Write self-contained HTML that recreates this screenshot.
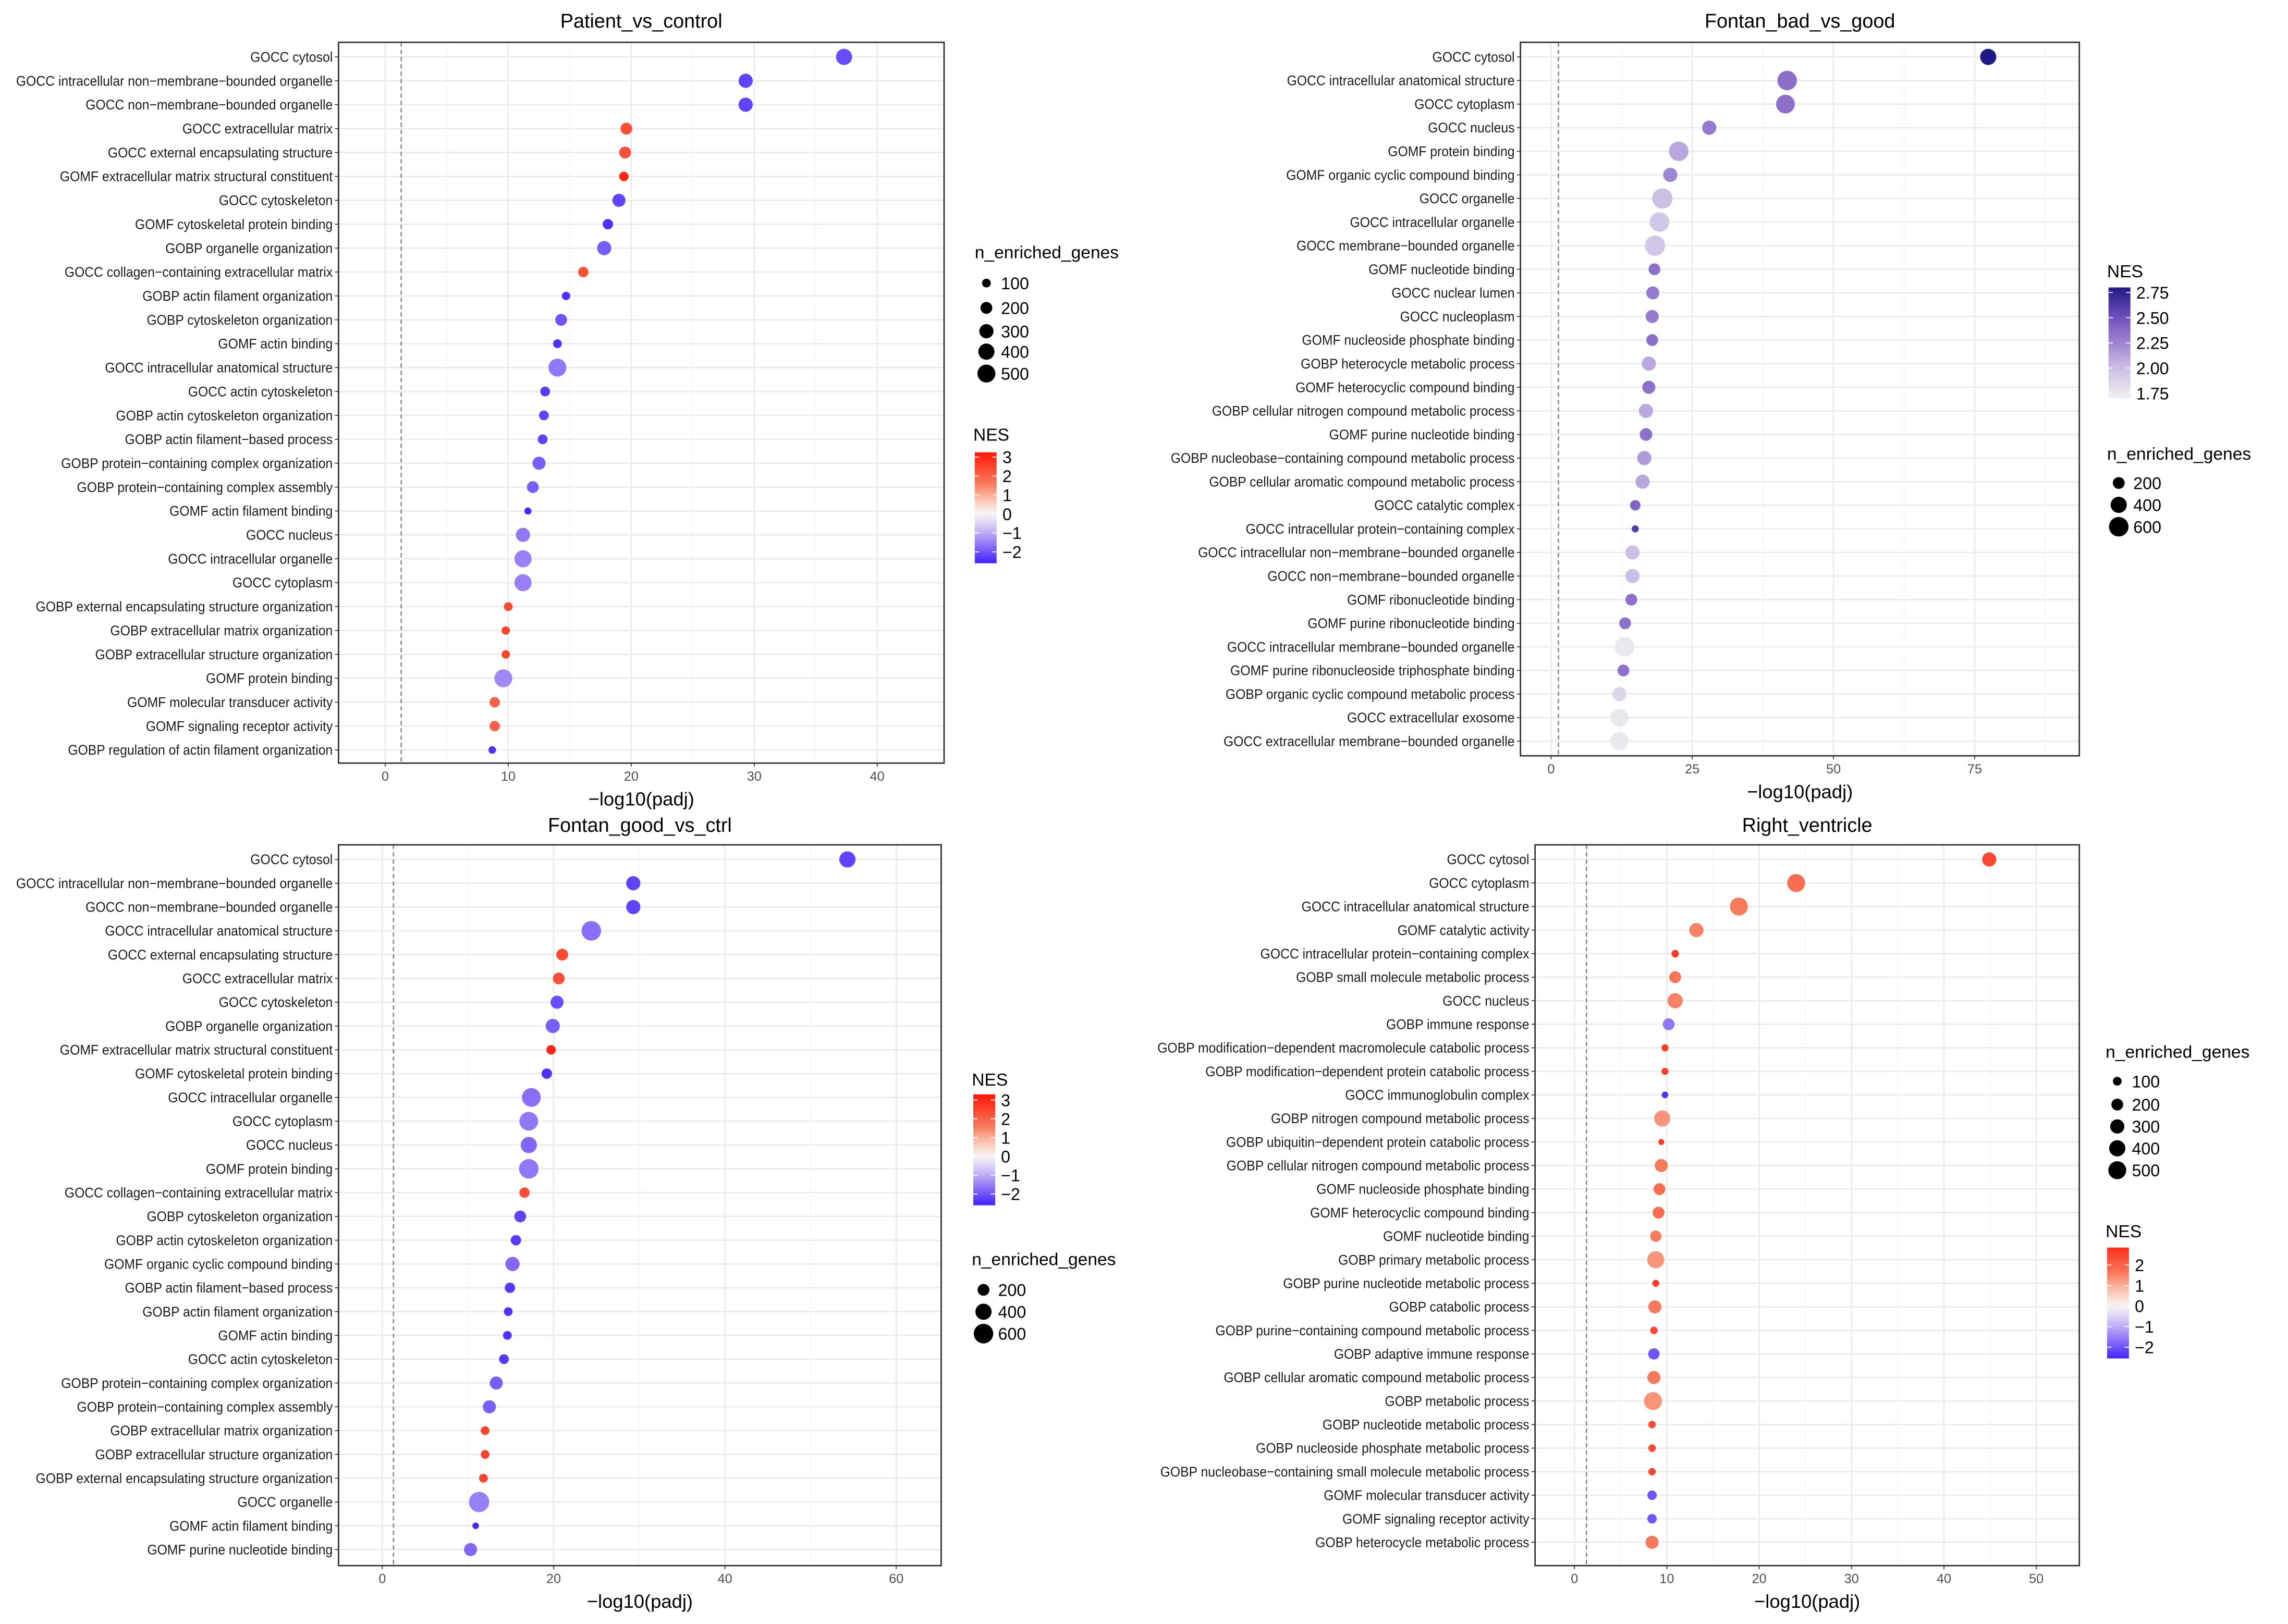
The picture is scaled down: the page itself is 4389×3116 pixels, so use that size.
<!DOCTYPE html>
<html><head><meta charset="utf-8">
<style>
html,body{margin:0;padding:0;background:#fff;}
svg{display:block;font-family:"Liberation Sans",sans-serif;}
</style></head>
<body>
<svg id="fig" xmlns="http://www.w3.org/2000/svg" width="4389" height="3116" viewBox="0 0 1568 1113" preserveAspectRatio="none"></svg>
<script>
// ---------- Panel A: Patient_vs_control ----------
const termsA = ["GOCC cytosol","GOCC intracellular non−membrane−bounded organelle","GOCC non−membrane−bounded organelle","GOCC extracellular matrix","GOCC external encapsulating structure","GOMF extracellular matrix structural constituent","GOCC cytoskeleton","GOMF cytoskeletal protein binding","GOBP organelle organization","GOCC collagen−containing extracellular matrix","GOBP actin filament organization","GOBP cytoskeleton organization","GOMF actin binding","GOCC intracellular anatomical structure","GOCC actin cytoskeleton","GOBP actin cytoskeleton organization","GOBP actin filament−based process","GOBP protein−containing complex organization","GOBP protein−containing complex assembly","GOMF actin filament binding","GOCC nucleus","GOCC intracellular organelle","GOCC cytoplasm","GOBP external encapsulating structure organization","GOBP extracellular matrix organization","GOBP extracellular structure organization","GOMF protein binding","GOMF molecular transducer activity","GOMF signaling receptor activity","GOBP regulation of actin filament organization"];
const padjA = [37.3,29.3,29.3,19.6,19.5,19.4,19.0,18.1,17.8,16.1,14.7,14.3,14.0,14.0,13.0,12.9,12.8,12.5,12.0,11.6,11.2,11.2,11.2,10.0,9.8,9.8,9.6,8.9,8.9,8.7];
const genesA = [400,300,300,200,200,120,250,150,300,150,90,200,100,500,130,130,130,250,200,60,300,450,450,100,90,90,500,150,150,70];
const nesA = [-2.1,-2.2,-2.2,2.3,2.3,3.0,-2.2,-2.4,-1.9,2.3,-2.4,-2.0,-2.4,-1.6,-2.3,-2.2,-2.2,-1.9,-1.9,-2.5,-1.6,-1.5,-1.5,2.4,2.5,2.5,-1.4,2.0,2.0,-2.4];
const xTicksA = [0,10,20,30,40];

// ---------- Panel B: Fontan_bad_vs_good ----------
const termsB = ["GOCC cytosol","GOCC intracellular anatomical structure","GOCC cytoplasm","GOCC nucleus","GOMF protein binding","GOMF organic cyclic compound binding","GOCC organelle","GOCC intracellular organelle","GOCC membrane−bounded organelle","GOMF nucleotide binding","GOCC nuclear lumen","GOCC nucleoplasm","GOMF nucleoside phosphate binding","GOBP heterocycle metabolic process","GOMF heterocyclic compound binding","GOBP cellular nitrogen compound metabolic process","GOMF purine nucleotide binding","GOBP nucleobase−containing compound metabolic process","GOBP cellular aromatic compound metabolic process","GOCC catalytic complex","GOCC intracellular protein−containing complex","GOCC intracellular non−membrane−bounded organelle","GOCC non−membrane−bounded organelle","GOMF ribonucleotide binding","GOMF purine ribonucleotide binding","GOCC intracellular membrane−bounded organelle","GOMF purine ribonucleoside triphosphate binding","GOBP organic cyclic compound metabolic process","GOCC extracellular exosome","GOCC extracellular membrane−bounded organelle"];
const padjB = [77.4,41.8,41.5,28.0,22.6,21.1,19.7,19.2,18.4,18.3,18.0,17.9,17.9,17.3,17.3,16.8,16.8,16.5,16.2,14.9,14.9,14.4,14.4,14.2,13.1,13.0,12.8,12.1,12.1,12.1];
const genesB = [400,600,550,300,600,300,650,600,650,200,250,250,200,300,250,300,230,300,300,150,60,300,300,200,200,600,200,300,500,500];
const nesB = [2.8,2.35,2.35,2.3,2.1,2.25,2.0,1.95,1.95,2.35,2.3,2.3,2.35,2.1,2.35,2.1,2.35,2.15,2.1,2.4,2.6,2.0,2.0,2.35,2.35,1.75,2.35,1.85,1.75,1.75];
const xTicksB = [0,25,50,75];

// ---------- Panel C: Fontan_good_vs_ctrl ----------
const termsC = ["GOCC cytosol","GOCC intracellular non−membrane−bounded organelle","GOCC non−membrane−bounded organelle","GOCC intracellular anatomical structure","GOCC external encapsulating structure","GOCC extracellular matrix","GOCC cytoskeleton","GOBP organelle organization","GOMF extracellular matrix structural constituent","GOMF cytoskeletal protein binding","GOCC intracellular organelle","GOCC cytoplasm","GOCC nucleus","GOMF protein binding","GOCC collagen−containing extracellular matrix","GOBP cytoskeleton organization","GOBP actin cytoskeleton organization","GOMF organic cyclic compound binding","GOBP actin filament−based process","GOBP actin filament organization","GOMF actin binding","GOCC actin cytoskeleton","GOBP protein−containing complex organization","GOBP protein−containing complex assembly","GOBP extracellular matrix organization","GOBP extracellular structure organization","GOBP external encapsulating structure organization","GOCC organelle","GOMF actin filament binding","GOMF purine nucleotide binding"];
const padjC = [54.3,29.3,29.3,24.4,21.0,20.6,20.4,19.9,19.7,19.2,17.4,17.1,17.1,17.1,16.6,16.1,15.6,15.2,14.9,14.7,14.6,14.2,13.3,12.5,12.0,12.0,11.8,11.3,10.9,10.3];
const genesC = [400,300,300,600,200,200,250,300,120,150,550,550,400,600,150,200,150,300,150,100,100,130,250,250,100,100,100,650,50,250];
const nesC = [-2.2,-2.2,-2.2,-1.7,2.4,2.3,-2.1,-1.9,3.0,-2.4,-1.7,-1.6,-1.8,-1.6,2.3,-2.2,-2.3,-1.8,-2.3,-2.4,-2.4,-2.3,-1.9,-1.9,2.5,2.5,2.5,-1.5,-2.5,-1.8];
const xTicksC = [0,20,40,60];

// ---------- Panel D: Right_ventricle ----------
const termsD = ["GOCC cytosol","GOCC cytoplasm","GOCC intracellular anatomical structure","GOMF catalytic activity","GOCC intracellular protein−containing complex","GOBP small molecule metabolic process","GOCC nucleus","GOBP immune response","GOBP modification−dependent macromolecule catabolic process","GOBP modification−dependent protein catabolic process","GOCC immunoglobulin complex","GOBP nitrogen compound metabolic process","GOBP ubiquitin−dependent protein catabolic process","GOBP cellular nitrogen compound metabolic process","GOMF nucleoside phosphate binding","GOMF heterocyclic compound binding","GOMF nucleotide binding","GOBP primary metabolic process","GOBP purine nucleotide metabolic process","GOBP catabolic process","GOBP purine−containing compound metabolic process","GOBP adaptive immune response","GOBP cellular aromatic compound metabolic process","GOBP metabolic process","GOBP nucleotide metabolic process","GOBP nucleoside phosphate metabolic process","GOBP nucleobase−containing small molecule metabolic process","GOMF molecular transducer activity","GOMF signaling receptor activity","GOBP heterocycle metabolic process"];
const padjD = [44.9,24.0,17.8,13.2,10.9,10.9,10.9,10.2,9.8,9.8,9.8,9.5,9.4,9.4,9.2,9.1,8.8,8.8,8.8,8.7,8.6,8.6,8.6,8.5,8.4,8.4,8.4,8.4,8.4,8.4];
const genesD = [300,500,500,300,70,200,350,200,60,60,50,400,40,250,200,200,180,450,60,250,70,180,250,500,70,70,70,120,120,250];
const nesD = [2.4,1.8,1.6,1.5,2.6,1.7,1.5,-1.6,2.6,2.6,-2.4,1.3,2.6,1.6,1.8,1.8,1.6,1.3,2.5,1.6,2.4,-2.0,1.6,1.3,2.4,2.4,2.4,-2.0,-2.0,1.6];
const xTicksD = [0,10,20,30,40,50];

// ---------- helpers ----------
const NS = "http://www.w3.org/2000/svg";
const svg = document.getElementById('fig');
function mk(tag, attrs, parent){
  const e = document.createElementNS(NS, tag);
  for (const k in attrs) e.setAttribute(k, attrs[k]);
  (parent||svg).appendChild(e);
  return e;
}
function lerp(a,b,t){return a+(b-a)*t;}
function hex(c){return [parseInt(c.slice(1,3),16),parseInt(c.slice(3,5),16),parseInt(c.slice(5,7),16)];}
function stopColor(stops, v){
  if (v<=stops[0][0]) return stops[0][1];
  if (v>=stops[stops.length-1][0]) return stops[stops.length-1][1];
  for (let i=0;i<stops.length-1;i++){
    const [v0,c0]=stops[i],[v1,c1]=stops[i+1];
    if (v>=v0 && v<=v1){
      const t=(v-v0)/(v1-v0), a=hex(c0), b=hex(c1);
      return 'rgb('+a.map((x,j)=>Math.round(lerp(x,b[j],t))).join(',')+')';
    }
  }
}
const divStops = [[-2.6,'#4020ff'],[-1.6,'#9277f6'],[-0.8,'#cbbdf7'],[0,'#f7f7f7'],[0.8,'#fbc0ac'],[1.6,'#f67a5c'],[3.2,'#ff1a0a']];
const purStops = [[1.7,'#f0f0f0'],[2.0,'#cbbfe4'],[2.25,'#9f85d2'],[2.5,'#7150bd'],[2.85,'#13117a']];
function rad(n){return 0.255*Math.sqrt(n)+0.45;}

function panel(cfg){
  const g = mk('g', {});
  
  
  const [bx0,bx1,by0,by1] = cfg.box;
  const xs = v => cfg.zeroPx + v*cfg.ppu;
  const n = cfg.terms.length;
  const ys = i => cfg.rowTop + i*(cfg.rowBot-cfg.rowTop)/(n-1);
  mk('rect',{x:bx0,y:by0,width:bx1-bx0,height:by1-by0,fill:'#fff'},g);
  const step = cfg.ticks[1]-cfg.ticks[0];
  for (let v=cfg.ticks[0]-step/2; v<=cfg.ticks[cfg.ticks.length-1]+step; v+=step){
    const x=xs(v); if (x>bx0 && x<bx1){
      const l=mk('line',{x1:x,x2:x,y1:by0,y2:by1,stroke:'#f4f4f4','stroke-width':0.5},g);
       
    }
  }
  cfg.ticks.forEach(v=>{
    const x=xs(v);
    const l=mk('line',{x1:x,x2:x,y1:by0,y2:by1,stroke:'#ebebeb','stroke-width':1},g);
     
    mk('line',{x1:x,x2:x,y1:by1,y2:by1+2.5,stroke:'#333','stroke-width':0.6},g);
    const t=mk('text',{x:x,y:by1+12,'font-size':9,'text-anchor':'middle',fill:'#4d4d4d'},g);
    t.textContent=v;
     
  });
  cfg.terms.forEach((s,i)=>{
    const y=ys(i);
    const l=mk('line',{x1:bx0,x2:bx1,y1:y,y2:y,stroke:'#ebebeb','stroke-width':1},g);
     
    mk('line',{x1:bx0-2.5,x2:bx0,y1:y,y2:y,stroke:'#333','stroke-width':0.6},g);
    const t=mk('text',{x:bx0-4,y:y+3.3,'font-size':9.5,'text-anchor':'end',fill:'#1a1a1a'},g);
    t.textContent=s;
     
    try{
      const L=t.getComputedTextLength();
      if (L>0){ t.setAttribute('textLength',(L*0.93).toFixed(2)); t.setAttribute('lengthAdjust','spacingAndGlyphs'); }
    }catch(e){}
  });
  const dl=mk('line',{x1:xs(1.3),x2:xs(1.3),y1:by0,y2:by1,stroke:'#777','stroke-width':0.8,'stroke-dasharray':'3,2'},g);
   
  cfg.terms.forEach((s,i)=>{
    const c=mk('circle',{cx:xs(cfg.x[i]),cy:ys(i),r:rad(cfg.genes[i]),fill:stopColor(cfg.stops,cfg.nes[i])},g);
    
    
  });
  mk('rect',{x:bx0,y:by0,width:bx1-bx0,height:by1-by0,fill:'none',stroke:'#333','stroke-width':1},g);
  const tt=mk('text',{x:(bx0+bx1)/2,y:cfg.titleY,'font-size':13.5,'text-anchor':'middle',fill:'#000'},g);
  tt.textContent=cfg.title;
   
  const at=mk('text',{x:(bx0+bx1)/2,y:by1+29,'font-size':13,'text-anchor':'middle',fill:'#000'},g);
  at.textContent='−log10(padj)';
   

  const sl=cfg.sizeLeg;
  const st=mk('text',{x:sl.x,y:sl.y,'font-size':12,fill:'#000'},g);
  st.textContent='n_enriched_genes';
   
  sl.vals.forEach((v,k)=>{
    const y=sl.ys[k];
    const c=mk('circle',{cx:sl.x+8,cy:y,r:rad(v),fill:'#000'},g);
     
    const t=mk('text',{x:sl.x+18,y:y+4.2,'font-size':11.5,fill:'#000'},g);
    t.textContent=v;
     
  });
  const cl=cfg.colLeg;
  const ct=mk('text',{x:cl.x,y:cl.y,'font-size':12,fill:'#000'},g);
  ct.textContent='NES';
   
  const gid='grad-'+cfg.name;
  const defs=mk('defs',{},g);
  const lg=mk('linearGradient',{id:gid,x1:0,y1:1,x2:0,y2:0},defs);
  for (let k=0;k<=20;k++){
    const v=cl.lo+(cl.hi-cl.lo)*k/20;
    mk('stop',{offset:(k*5)+'%','stop-color':stopColor(cfg.stops,v)},lg);
  }
  const bar=mk('rect',{x:cl.x+1,y:cl.top,width:15,height:cl.bot-cl.top,fill:'url(#'+gid+')'},g);
   
  const cy=v=>cl.bot-(v-cl.lo)/(cl.hi-cl.lo)*(cl.bot-cl.top);
  cl.ticks.forEach(v=>{
    const y=cy(v);
    mk('line',{x1:cl.x+1,x2:cl.x+4,y1:y,y2:y,stroke:'#fff','stroke-width':0.6},g);
    mk('line',{x1:cl.x+13,x2:cl.x+16,y1:y,y2:y,stroke:'#fff','stroke-width':0.6},g);
    const t=mk('text',{x:cl.x+20,y:y+4.2,'font-size':11.5,fill:'#000'},g);
    t.textContent=(cl.fmt?v.toFixed(2):String(v)).replace('-','−');
     
  });
}

panel({name:'patient-vs-control',title:'Patient_vs_control',box:[232,647,29,523],zeroPx:264,ppu:8.43,ticks:xTicksA,
  rowTop:39,rowBot:514,titleY:19,terms:termsA,x:padjA,genes:genesA,nes:nesA,stops:divStops,
  sizeLeg:{x:668,y:177,vals:[100,200,300,400,500],ys:[194,211,227,241,256]},
  colLeg:{x:667,y:302,top:310,bot:386,lo:-2.6,hi:3.25,ticks:[3,2,1,0,-1,-2]}});
panel({name:'fontan-bad-vs-good',title:'Fontan_bad_vs_good',box:[1042,1425,29,518],zeroPx:1063,ppu:3.87,ticks:xTicksB,
  rowTop:39,rowBot:508,titleY:19,terms:termsB,x:padjB,genes:genesB,nes:nesB,stops:purStops,
  sizeLeg:{x:1444,y:315,vals:[200,400,600],ys:[331,346,361]},
  colLeg:{x:1444,y:190,top:197,bot:273,lo:1.7,hi:2.8,ticks:[2.75,2.5,2.25,2.0,1.75],fmt:true}});
panel({name:'fontan-good-vs-ctrl',title:'Fontan_good_vs_ctrl',box:[232,645,579,1073],zeroPx:262,ppu:5.87,ticks:xTicksC,
  rowTop:589,rowBot:1062,titleY:570,terms:termsC,x:padjC,genes:genesC,nes:nesC,stops:divStops,
  sizeLeg:{x:666,y:867,vals:[200,400,600],ys:[884,899,914]},
  colLeg:{x:666,y:744,top:750,bot:826,lo:-2.6,hi:3.3,ticks:[3,2,1,0,-1,-2]}});
panel({name:'right-ventricle',title:'Right_ventricle',box:[1052,1425,579,1073],zeroPx:1079,ppu:6.33,ticks:xTicksD,
  rowTop:589,rowBot:1057,titleY:570,terms:termsD,x:padjD,genes:genesD,nes:nesD,stops:divStops,
  sizeLeg:{x:1443,y:725,vals:[100,200,300,400,500],ys:[741,757,772,787,802]},
  colLeg:{x:1443,y:848,top:855,bot:931,lo:-2.55,hi:2.85,ticks:[2,1,0,-1,-2]}});
</script>
</body></html>
